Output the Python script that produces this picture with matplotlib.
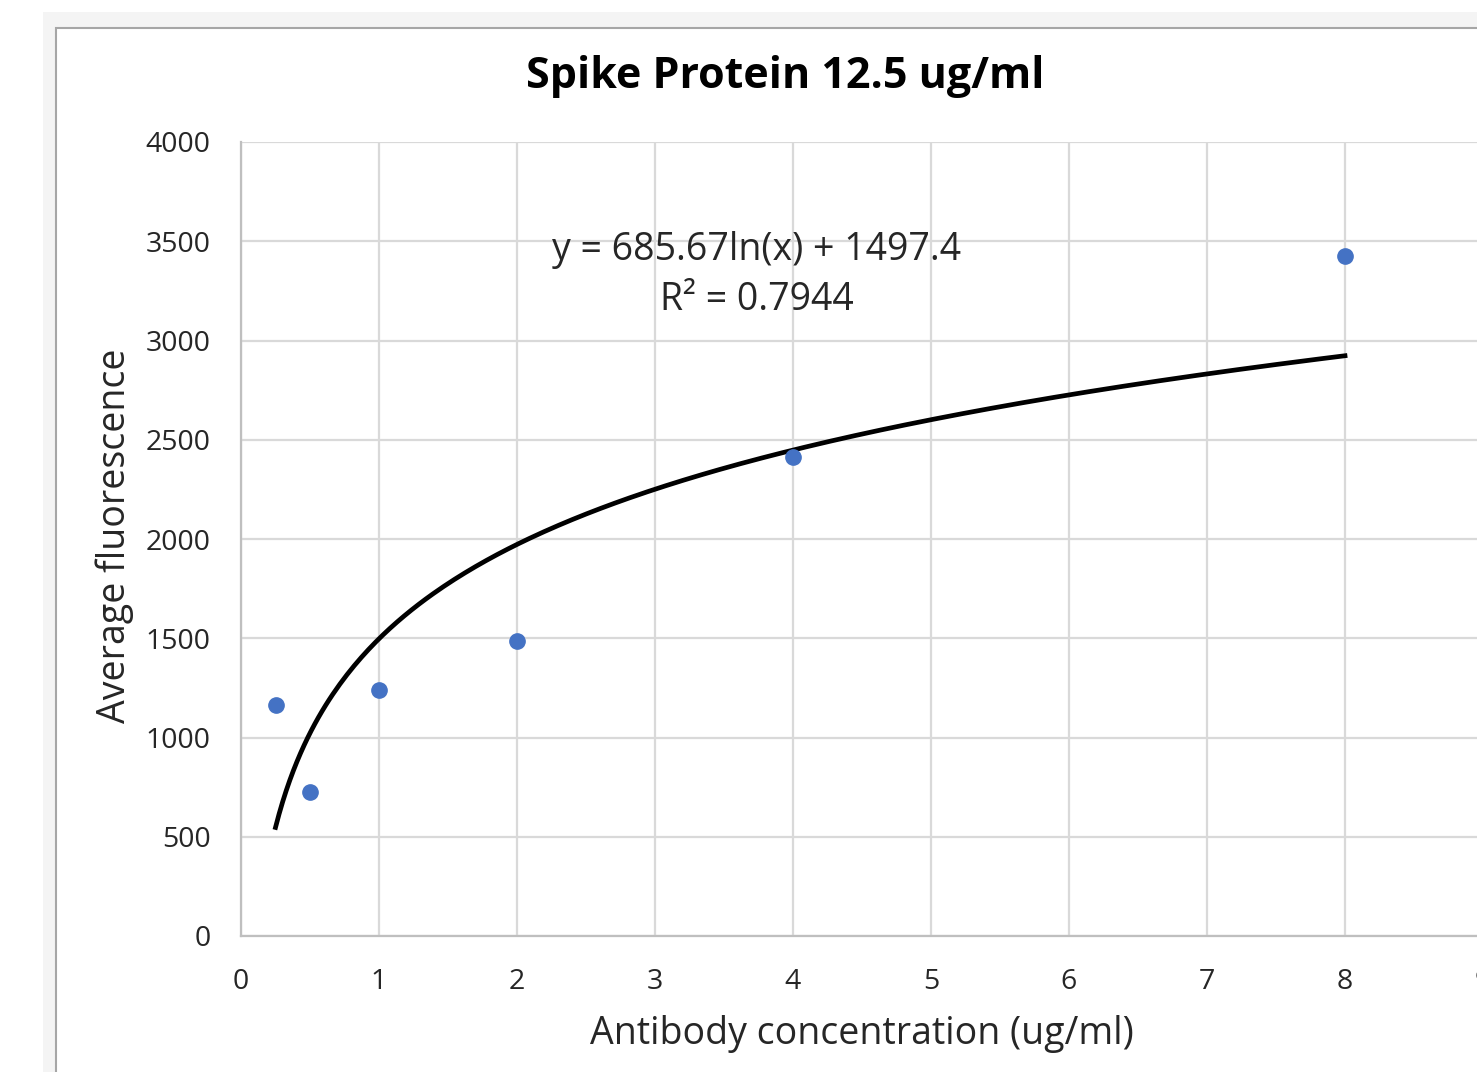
import numpy as np
import matplotlib
matplotlib.use('Agg')
import matplotlib.pyplot as plt
from matplotlib.patches import Rectangle

plt.rcParams['font.family'] = ['Open Sans', 'DejaVu Sans']

# 数据
conc = [0.25, 0.5, 1, 2, 4, 8]
fluor = [1163, 723, 1240, 1485, 2415, 3425]

# 趋势线系数 (y = a*ln(x) + b)
coef_a = 685.67
coef_b = 1497.4
r2 = 0.7944

x_ticks = list(range(0, 10))
y_ticks = list(range(0, 4001, 500))

W, H = 1477, 1072
fig = plt.figure(figsize=(W / 100, H / 100), dpi=100)
fig.patch.set_facecolor('white')

# 背景和图表边框
fig.add_artist(Rectangle((43 / W, -0.1), 1.2, 1.1 - 12 / H, transform=fig.transFigure,
                         facecolor='#f4f4f4', edgecolor='none', zorder=0))
fig.add_artist(Rectangle((56 / W, -0.1), 1.2, 1.1 - 28 / H, transform=fig.transFigure,
                         facecolor='white', edgecolor='#a6a6a6', linewidth=1.5, zorder=0))

ax = fig.add_axes([241 / W, 1 - 936 / H, 1242 / W, 794 / H])
ax.set_facecolor('none')
ax.set_xlim(0, 9)
ax.set_ylim(0, 4000)
ax.set_xticks(x_ticks)
ax.set_yticks(y_ticks)
ax.grid(True, color='#d9d9d9', linewidth=1.6)
ax.set_axisbelow(True)
for s in ['top', 'right']:
    ax.spines[s].set_visible(False)
for s in ['left', 'bottom']:
    ax.spines[s].set_color('#bfbfbf')
    ax.spines[s].set_linewidth(1.6)
ax.tick_params(length=0, labelsize=20.5, labelcolor='#262626')
ax.tick_params(axis='x', pad=23)
ax.tick_params(axis='y', pad=22)

# 趋势线
xs = np.linspace(min(conc), max(conc), 300)
ax.plot(xs, coef_a * np.log(xs) + coef_b, color='black', linewidth=3.4, zorder=3)
ax.plot(conc, fluor, 'o', color='#4472c4', markersize=11, zorder=4, clip_on=False)

ax.text(0.4155, 0.8635, f'y = {coef_a}ln(x) + {coef_b}', transform=ax.transAxes,
        ha='center', va='center', fontsize=27, color='#262626')
ax.text(0.4155, 0.8005, f'R² = {r2}', transform=ax.transAxes,
        ha='center', va='center', fontsize=27, color='#262626')

ax.set_xlabel('Antibody concentration (ug/ml)', fontsize=27, color='#262626')
ax.set_ylabel('Average fluorescence', fontsize=27, color='#262626')
ax.xaxis.set_label_coords(0.5, -0.0995)
ax.yaxis.set_label_coords(-0.086, 0.504)

fig.text(785 / W, 1 - 77 / H, 'Spike Protein 12.5 ug/ml', ha='center', va='center',
         fontsize=31, fontweight='bold', color='black')

plt.savefig('out.png', dpi=100)
